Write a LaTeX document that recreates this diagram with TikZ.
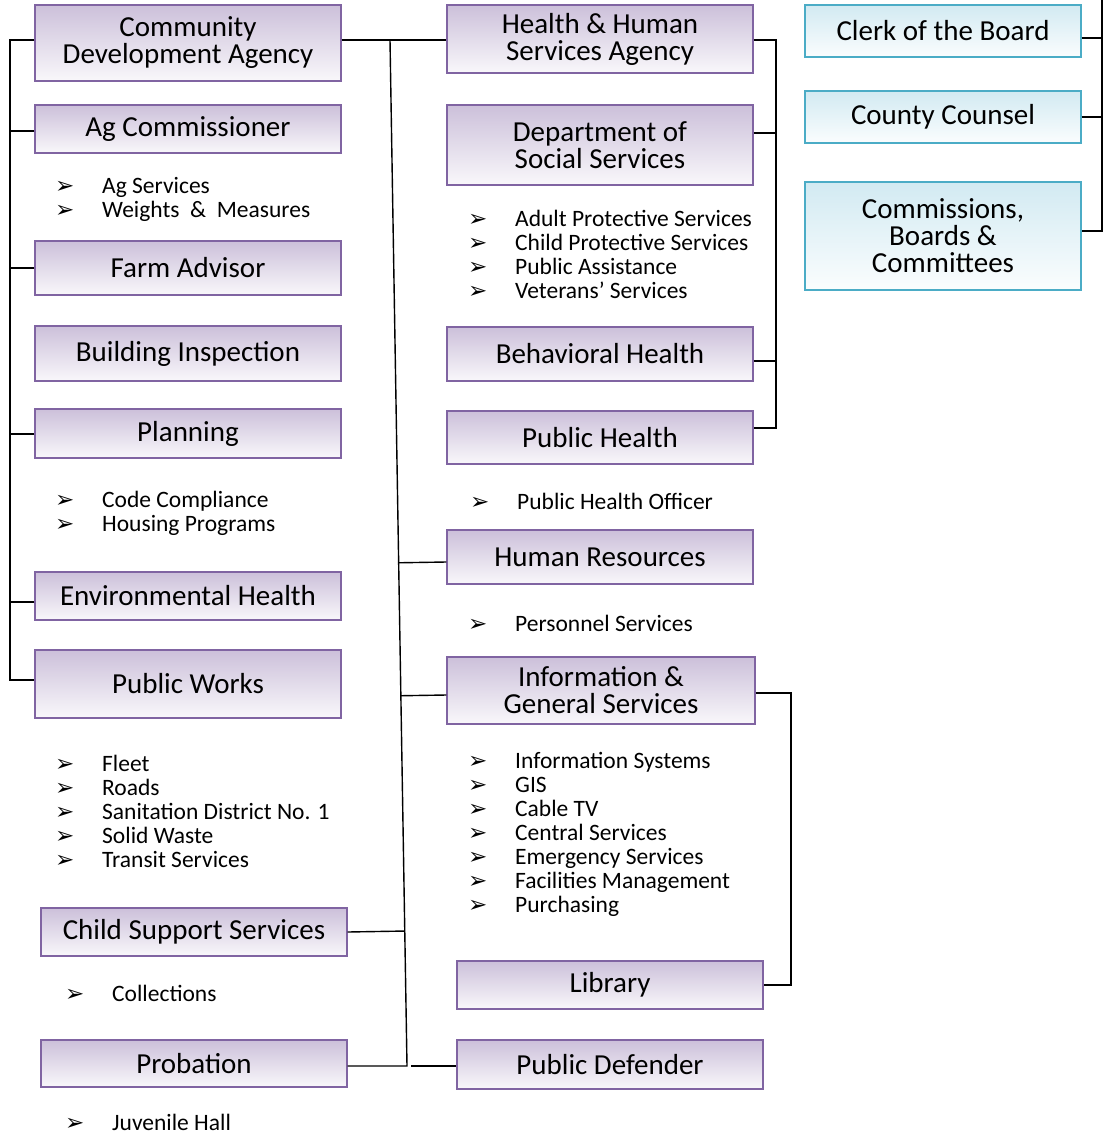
\documentclass[tikz,border=0pt]{standalone}
\usepackage{fontspec}
\setmainfont{Carlito}
\newfontfamily\symfont{DejaVu Sans}
\usetikzlibrary{positioning,calc}

\definecolor{purpleline}{RGB}{128,100,162}
\definecolor{purpletop}{RGB}{204,192,218}
\definecolor{aqualine}{RGB}{75,172,198}
\definecolor{aquatop}{RGB}{210,234,242}

\newcommand{\bul}{\makebox[47pt][l]{\symfont\fontsize{23}{23}\selectfont ➢}}

\tikzset{
  dept/.style={draw=purpleline, line width=1.3pt, top color=purpletop, bottom color=purpletop!12,
    minimum width=306pt, inner sep=0pt, align=center, font=\fontsize{29}{27}\selectfont},
  board/.style={dept, draw=aqualine, top color=aquatop, bottom color=aquatop!10, minimum width=276pt},
  duties/.style={anchor=west, align=left, inner sep=0pt, font=\fontsize{23.5}{24}\selectfont},
  link/.style={line width=1.4pt}
}

\begin{document}
\begin{tikzpicture}[x=1pt,y=-1pt]
\useasboundingbox (0,0) rectangle (1107,1135);

% left column
\node (cda)  at (188,43)    [dept, minimum height=76pt] {Community\\Development Agency};
\node (agc)  at (188,129)   [dept, minimum height=48pt] {Ag Commissioner};
\node (farm) at (188,268)   [dept, minimum height=54pt] {Farm Advisor};
\node (bldg) at (188,353.5) [dept, minimum height=55pt] {Building Inspection};
\node (plan) at (188,433.5) [dept, minimum height=49pt] {Planning};
\node (env)  at (188,596)   [dept, minimum height=48pt] {Environmental Health};
\node (pw)   at (188,684)   [dept, minimum height=68pt] {Public Works};
\node (css)  at (194,932)   [dept, minimum height=48pt] {Child Support Services};
\node (prob) at (194,1063.5)[dept, minimum height=47pt] {Probation};

% middle column
\node (hhsa) at (600,39)    [dept, minimum height=68pt] {Health \& Human\\Services Agency};
\node (dss)  at (600,145)   [dept, minimum height=80pt] {Department of\\Social Services};
\node (bh)   at (600,354)   [dept, minimum height=54pt] {Behavioral Health};
\node (ph)   at (600,437.5) [dept, minimum height=53pt] {Public Health};
\node (hr)   at (600,557)   [dept, minimum height=54pt] {Human Resources};
\node (igs)  at (601,690.5) [dept, minimum height=67pt, minimum width=308pt] {Information \&\\General Services};
\node (lib)  at (610,985)   [dept, minimum height=48pt] {Library};
\node (pd)   at (610,1064.5)[dept, minimum height=49pt] {Public Defender};

% right column
\node (clerk) at (943,31)  [board, minimum height=52pt] {Clerk of the Board};
\node (cc)    at (943,117) [board, minimum height=52pt] {County Counsel};
\node (cbc)   at (943,236) [board, minimum height=108pt] {Commissions,\\Boards \&\\Committees};

% sub-items
\node (agList)   at (55,199)  [duties] {\bul Ag Services\\\bul Weights\ \ \&\ \ Measures};
\node (planList) at (55,513)  [duties] {\bul Code Compliance\\\bul Housing Programs};
\node (pwList)   at (55,811)  [duties] {\bul Fleet\\\bul Roads\\\bul Sanitation District No. 1\\\bul Solid Waste\\\bul Transit Services};
\node (cssList)  at (65,993)  [duties] {\bul Collections};
\node (probList) at (65,1122) [duties] {\bul Juvenile Hall};
\node (dssList)  at (468,254) [duties] {\bul Adult Protective Services\\\bul Child Protective Services\\\bul Public Assistance\\\bul Veterans’ Services};
\node (phList)   at (470,501) [duties] {\bul Public Health Officer};
\node (hrList)   at (468,623) [duties] {\bul Personnel Services};
\node (igsList)  at (468,834) [duties] {\bul Information Systems\\\bul GIS\\\bul Cable TV\\\bul Central Services\\\bul Emergency Services\\\bul Facilities Management\\\bul Purchasing};

% left spine
\coordinate (lt) at (10,40);
\coordinate (lb) at (10,680);
\draw[link] (cda.west |- lt) -- (lt) -- (lb) -- (pw.west |- lb);
\draw[link] ([yshift=-2pt]agc.west) -- ([yshift=-2pt]agc.west -| lt);
\draw[link] (farm.west) -- (farm.west -| lt);
\draw[link] ([yshift=-0.5pt]plan.west) -- ([yshift=-0.5pt]plan.west -| lt);
\draw[link] ([yshift=-6pt]env.west) -- ([yshift=-6pt]env.west -| lt);

% centre spine
\coordinate (ct) at (390,40);
\coordinate (cb) at (407,1066);
\draw[link] (cda.east |- ct) -- (hhsa.west |- ct);
\draw[link] (ct) -- (cb) -- (prob.east |- cb);
\draw[link] ([yshift=-5pt]hr.west) -- ($(ct)!([yshift=-5pt]hr.west)!(cb)$);
\draw[link] ([yshift=-4.5pt]igs.west) -- ($(ct)!([yshift=-4.5pt]igs.west)!(cb)$);
\draw[link] (css.east) -- ($(ct)!(css.east)!(cb)$);
\coordinate (pdgap) at (411,1066);
\draw[link] (pdgap) -- (pd.west |- pdgap);

% health & human services spine
\coordinate (ht) at (776,40);
\coordinate (hb) at (776,428);
\draw[link] (hhsa.east |- ht) -- (ht) -- (hb) -- (ph.east |- hb);
\draw[link] ([yshift=12pt]dss.east) -- ([yshift=12pt]dss.east -| ht);
\draw[link] ([yshift=-7pt]bh.east) -- ([yshift=-7pt]bh.east -| ht);

% information & general services spine
\coordinate (it) at (791,693);
\draw[link] (igs.east |- it) -- (it) -- (it |- lib.east) -- (lib.east);

% board spine
\coordinate (bt) at (1102,0);
\coordinate (bb) at (1102,231);
\draw[link] (bt) -- (bb) -- (cbc.east |- bb);
\draw[link] ([yshift=-7pt]clerk.east) -- ([yshift=-7pt]clerk.east -| bt);
\draw[link] (cc.east) -- (cc.east -| bt);
\end{tikzpicture}
\end{document}
